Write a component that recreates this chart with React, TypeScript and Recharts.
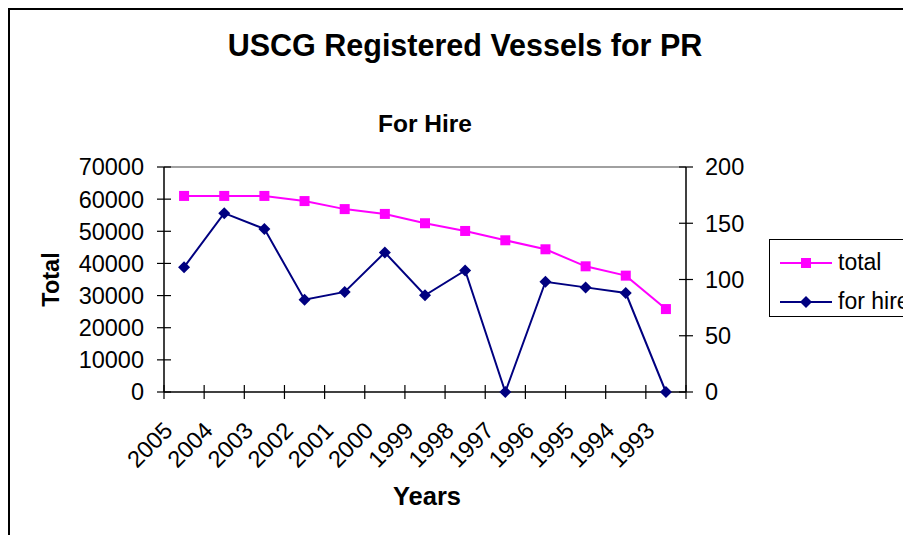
import { LineChart, Line, XAxis, YAxis, Legend, ReferenceLine } from 'recharts'

const years = ['2005', '2004', '2003', '2002', '2001', '2000', '1999', '1998', '1997', '1996', '1995', '1994', '1993']
const total = [61000, 61000, 61000, 59400, 56900, 55400, 52500, 50100, 47200, 44400, 39100, 36200, 25800]
const forHire = [111, 159, 145, 82, 89, 124, 86, 108, 0, 98, 93, 88, 0]

const leftTicks = [0, 10000, 20000, 30000, 40000, 50000, 60000, 70000]
const rightTicks = [0, 50, 100, 150, 200]
const seriesNames = ['total', 'for hire']

const FONT = '"Liberation Sans", Arial, sans-serif'
const TOTAL_COLOR = '#ff00ff'
const HIRE_COLOR = '#000080'
const TICK = 7

const data = years.map((year, i) => ({ year, total: total[i], forHire: forHire[i] }))

const SquareDot = (props: any) => {
  const { cx, cy, index } = props
  if (cx == null || cy == null) return null
  return <rect key={`sq-${index}`} x={cx - 5} y={cy - 5} width={10} height={10} fill={TOTAL_COLOR} />
}

const DiamondDot = (props: any) => {
  const { cx, cy, index } = props
  if (cx == null || cy == null) return null
  return (
    <path
      key={`di-${index}`}
      d={`M${cx},${cy - 6}L${cx + 6},${cy}L${cx},${cy + 6}L${cx - 6},${cy}Z`}
      fill={HIRE_COLOR}
    />
  )
}

const LeftTick = (props: any) => {
  const { x, y, payload } = props
  const axisX = x + 13 + TICK
  return (
    <g>
      <line x1={axisX - TICK} x2={axisX + TICK} y1={y} y2={y} stroke="#000" strokeWidth={1.2} />
      <text x={x} y={y} dy="0.36em" textAnchor="end" fontSize={23.5} fill="#000" fontFamily={FONT}>
        {payload.value}
      </text>
    </g>
  )
}

const RightTick = (props: any) => {
  const { x, y, payload } = props
  const axisX = x - 12 - TICK
  return (
    <g>
      <line x1={axisX - TICK} x2={axisX + TICK} y1={y} y2={y} stroke="#000" strokeWidth={1.2} />
      <text x={x} y={y} dy="0.36em" textAnchor="start" fontSize={23.5} fill="#000" fontFamily={FONT}>
        {payload.value}
      </text>
    </g>
  )
}

// year label plus the cross tick marks, which sit between categories like the spreadsheet original
const YearTick = (props: any) => {
  const { x, y, payload, index, width, visibleTicksCount } = props
  const band = width / visibleTicksCount
  const left = x - band / 2
  const right = x + band / 2
  return (
    <g>
      <line x1={left} x2={left} y1={y - TICK} y2={y + TICK} stroke="#000" strokeWidth={1.2} />
      {index === visibleTicksCount - 1 && (
        <line x1={right} x2={right} y1={y - TICK} y2={y + TICK} stroke="#000" strokeWidth={1.2} />
      )}
      <g transform={`translate(${x - 10},${y + 40})`}>
        <text transform="rotate(-45)" textAnchor="end" fontSize={23.5} fill="#000" fontFamily={FONT}>
          {payload.value}
        </text>
      </g>
    </g>
  )
}

const LegendBox = (props: any) => {
  const items = [...(props.payload ?? [])].sort(
    (a: any, b: any) => seriesNames.indexOf(a.value) - seriesNames.indexOf(b.value)
  )
  return (
    <div
      style={{
        border: '1px solid #000',
        boxSizing: 'border-box',
        width: '100%',
        height: '100%',
        paddingTop: 3,
        background: '#fff',
        fontFamily: FONT,
      }}
    >
      {items.map((item: any) => (
        <div key={item.value} style={{ display: 'flex', alignItems: 'center', height: 39 }}>
          <svg width={62} height={20} style={{ display: 'block' }}>
            <line x1={10} x2={62} y1={10} y2={10} stroke={item.color} strokeWidth={2} />
            {item.value === 'total' ? (
              <rect x={31} y={5} width={10} height={10} fill={item.color} />
            ) : (
              <path d="M36,4L42,10L36,16L30,10Z" fill={item.color} />
            )}
          </svg>
          <span style={{ marginLeft: 6, fontSize: 23, color: '#000', whiteSpace: 'nowrap' }}>{item.value}</span>
        </div>
      ))}
    </div>
  )
}

export default function App() {
  return (
    <div style={{ width: 903, height: 527, overflow: 'hidden' }}>
      <div
        style={{
          position: 'relative',
          width: 910,
          height: 535,
          border: '2px solid #000',
          background: '#fff',
          fontFamily: FONT,
        }}
      >
        <LineChart width={900} height={520} data={data} margin={{ top: 157, right: 164, bottom: 137, left: 0 }}>
          <XAxis
            dataKey="year"
            scale="band"
            interval={0}
            height={1}
            tickLine={false}
            tickSize={0}
            tickMargin={0}
            axisLine={{ stroke: '#000', strokeWidth: 1.5 }}
            tick={<YearTick />}
          />
          <YAxis
            yAxisId="left"
            orientation="left"
            width={154}
            domain={[0, 70000]}
            ticks={leftTicks}
            interval={0}
            tickLine={false}
            tickSize={TICK}
            tickMargin={13}
            axisLine={{ stroke: '#000', strokeWidth: 1.5 }}
            tick={<LeftTick />}
          />
          <YAxis
            yAxisId="right"
            orientation="right"
            width={60}
            domain={[0, 200]}
            ticks={rightTicks}
            interval={0}
            tickLine={false}
            tickSize={TICK}
            tickMargin={12}
            axisLine={{ stroke: '#000', strokeWidth: 1.5 }}
            tick={<RightTick />}
          />
          <ReferenceLine yAxisId="left" y={70000} stroke="#808080" strokeWidth={1.5} />
          <Legend
            layout="vertical"
            align="center"
            verticalAlign="middle"
            content={<LegendBox />}
            wrapperStyle={{ left: 759, top: 229, width: 150, height: 78 }}
          />
          <Line
            yAxisId="left"
            dataKey="total"
            name="total"
            stroke={TOTAL_COLOR}
            strokeWidth={2}
            dot={SquareDot}
            activeDot={false}
            isAnimationActive={false}
          />
          <Line
            yAxisId="right"
            dataKey="forHire"
            name="for hire"
            stroke={HIRE_COLOR}
            strokeWidth={2}
            dot={DiamondDot}
            activeDot={false}
            isAnimationActive={false}
          />
        </LineChart>
        <svg
          width={906}
          height={531}
          style={{ position: 'absolute', left: 0, top: 0, pointerEvents: 'none' }}
          fontFamily={FONT}
        >
          <text x={455} y={46} textAnchor="middle" fontSize={30.5} fontWeight="bold" fill="#000">
            USCG Registered Vessels for PR
          </text>
          <text x={415} y={122} textAnchor="middle" fontSize={24.5} fontWeight="bold" fill="#000">
            For Hire
          </text>
          <text x={417} y={495} textAnchor="middle" fontSize={25.5} fontWeight="bold" fill="#000">
            Years
          </text>
          <text
            transform="translate(49,269.5) rotate(-90)"
            textAnchor="middle"
            fontSize={23.5}
            fontWeight="bold"
            fill="#000"
          >
            Total
          </text>
        </svg>
      </div>
    </div>
  )
}
